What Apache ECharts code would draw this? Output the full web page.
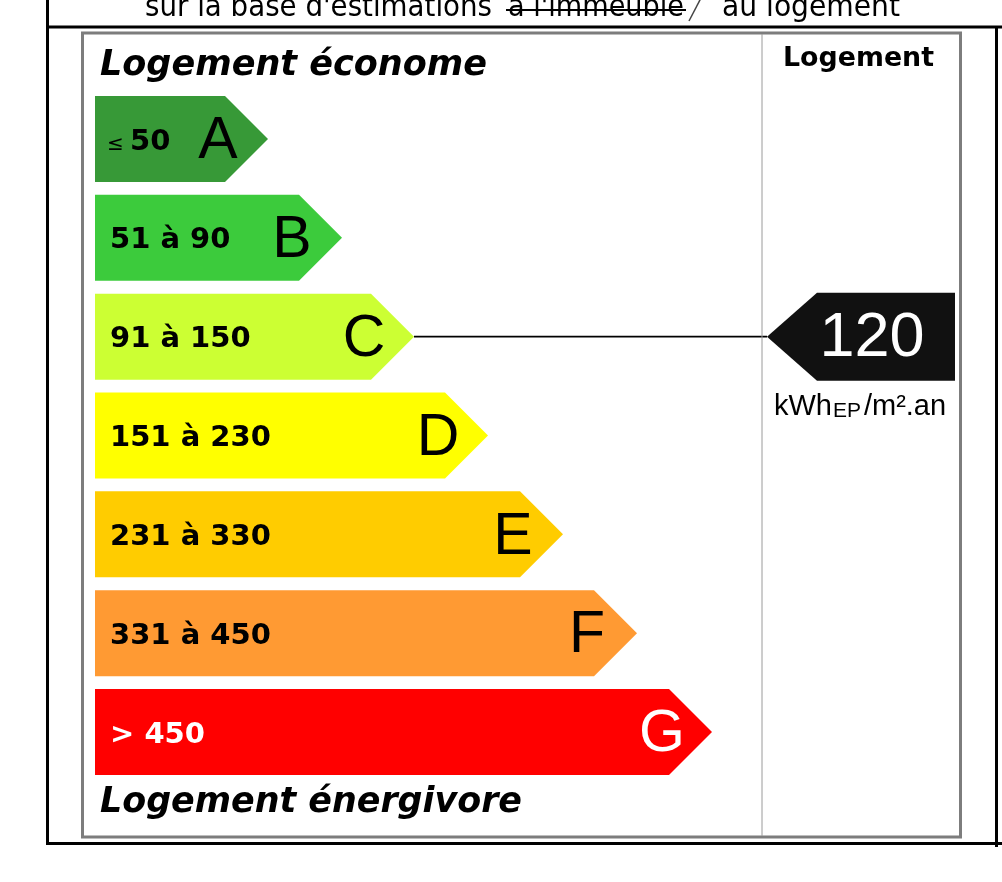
<!DOCTYPE html>
<html>
<head>
<meta charset="utf-8">
<script src="https://cdn.jsdelivr.net/npm/echarts@6/dist/echarts.min.js"></script>
<style>
  html, body { margin: 0; padding: 0; background: #fff; }
  #chart { width: 1002px; height: 882px; }
</style>
</head>
<body>
<div id="chart"></div>
<script>
// DPE energy label — classes A..G and the dwelling's value
var classes = ['A', 'B', 'C', 'D', 'E', 'F', 'G'];
var rangeLabels = ['≤ 50', '51 à 90', '91 à 150', '151 à 230', '231 à 330', '331 à 450', '> 450'];
var barLength = [173, 247, 319, 393, 468, 542, 617];
var logementValue = 120;
var logementClass = 'C';
var titleTop = 'Logement économe';
var titleBottom = 'Logement énergivore';
var columnTitle = 'Logement';
var headerParts = ["sur la base d'estimations", "à l'immeuble", 'au logement'];

(function () {
  var classColors = ['#379937', '#3ccb3c', '#ccff33', '#ffff00', '#ffcc00', '#ff9a33', '#ff0000'];
  var textColors = ['#000', '#000', '#000', '#000', '#000', '#000', '#fff'];
  var boldFont = '"DejaVu Sans", Verdana, sans-serif';
  var arial = '"Liberation Sans", Arial, sans-serif';
  var narrow = '"Liberation Sans Narrow", "DejaVu Sans Condensed", sans-serif';

  var ctx = document.createElement('canvas').getContext('2d');
  function fit(text, font, width) {
    ctx.font = font;
    return width / ctx.measureText(text).width;
  }

  function txt(x, y, width, text, font, extra) {
    var el = {
      type: 'text', x: x, y: y, z: 5,
      scaleX: width ? fit(text, font, width) : 1,
      style: { text: text, font: font, fill: '#000', textVerticalAlign: 'middle', verticalAlign: 'middle' }
    };
    for (var k in extra) el.style[k] = extra[k];
    return el;
  }

  function line(x1, y1, x2, y2, w, color) {
    return { type: 'line', z: 4, shape: { x1: x1, y1: y1, x2: x2, y2: y2 }, style: { stroke: color || '#000', lineWidth: w } };
  }

  var topFont = '30px ' + narrow;
  var headFont = 'italic bold 35px ' + boldFont;

  var graphics = [
    // table rules
    line(47.5, 0, 47.5, 845, 3),
    line(46, 27, 1002, 27, 3),
    line(46, 843.5, 1002, 843.5, 3),
    line(996.5, 26, 996.5, 847, 3),
    // label frame + divider
    { type: 'rect', z: 1, shape: { x: 82.5, y: 33, width: 878, height: 804 }, style: { fill: '#fff', stroke: '#7d7d7d', lineWidth: 3 } },
    line(762, 34, 762, 836, 1, '#9a9a9a'),
    // header text (cut at the top)
    txt(145, 8, 347, headerParts[0], topFont),
    txt(508, 8, 176, headerParts[1], topFont),
    line(506, 10, 686, 10, 2.2),
    line(701, -2, 689, 21, 1.5, '#444'),
    txt(722, 8, 178, headerParts[2], topFont),
    // titles
    txt(100, 66, 387, titleTop, headFont),
    txt(100, 803, 422, titleBottom, headFont),
    txt(783, 59, 151, columnTitle, 'bold 27px ' + boldFont)
  ];

  var chart = echarts.init(document.getElementById('chart'), null, { renderer: 'canvas' });

  function renderBar(params, api) {
    var i = api.value(2);
    var p0 = api.coord([0, i]);
    var p1 = api.coord([api.value(0), i]);
    var h = api.size([0, 1])[1] * 0.87;
    var d = h / 2, y = p1[1], x0 = p0[0], x1 = p1[0];
    var label = rangeLabels[i];
    var labelEl;
    if (label.charAt(0) === '≤') {
      labelEl = {
        type: 'text',
        style: {
          text: '{le|≤ }{b|' + label.slice(2) + '}',
          x: x0 + 12, y: y + 3, fill: textColors[i],
          textVerticalAlign: 'middle', verticalAlign: 'middle',
          rich: {
            le: { font: '20px ' + boldFont, fill: textColors[i], padding: [6, 0, 0, 0] },
            b: { font: 'bold 29px ' + boldFont, fill: textColors[i] }
          }
        }
      };
    } else {
      labelEl = {
        type: 'text',
        style: {
          text: label, x: x0 + 15, y: y + 3, fill: textColors[i],
          font: 'bold 29px ' + boldFont,
          textVerticalAlign: 'middle', verticalAlign: 'middle'
        }
      };
    }
    return {
      type: 'group',
      children: [
        {
          type: 'polygon',
          shape: { points: [[x0, y - d], [x1 - d, y - d], [x1, y], [x1 - d, y + d], [x0, y + d]] },
          style: { fill: classColors[i] }
        },
        labelEl,
        {
          type: 'text',
          style: {
            text: classes[i], x: x1 - 50, y: y + 3, fill: textColors[i],
            font: '59px ' + arial,
            textAlign: 'center', align: 'center',
            textVerticalAlign: 'middle', verticalAlign: 'middle'
          }
        }
      ]
    };
  }

  function renderIndicator(params, api) {
    var ci = api.value(1);
    var y = api.coord([0, ci])[1];
    var barTip = api.coord([barLength[ci], ci])[0];
    var tip = 767, right = 955, d = 44, slant = 817;
    return {
      type: 'group',
      children: [
        { type: 'line', shape: { x1: barTip, y1: y, x2: tip, y2: y }, style: { stroke: '#000', lineWidth: 1.6 } },
        {
          type: 'polygon',
          shape: { points: [[tip, y], [slant, y - d], [right, y - d], [right, y + d], [slant, y + d]] },
          style: { fill: '#111' }
        },
        {
          type: 'text',
          style: {
            text: String(api.value(0)), x: 872, y: y + 2, fill: '#fff',
            font: '63px ' + arial,
            textAlign: 'center', align: 'center',
            textVerticalAlign: 'middle', verticalAlign: 'middle'
          }
        },
        {
          type: 'text',
          style: {
            text: 'kWh{sub|EP}/m².an', x: 860, y: y + 70, fill: '#000',
            font: '29px ' + arial,
            textAlign: 'center', align: 'center',
            textVerticalAlign: 'middle', verticalAlign: 'middle',
            rich: { sub: { font: '21px ' + arial, fill: '#000', padding: [9, 3, 0, 1] } }
          }
        }
      ]
    };
  }

  chart.setOption({
    animation: false,
    graphic: graphics,
    grid: { left: 95, top: 89.6, width: 866, height: 691.8 },
    xAxis: { type: 'value', min: 0, max: 866, show: false },
    yAxis: { type: 'category', data: classes, inverse: true, show: false },
    series: [
      {
        type: 'custom',
        z: 3,
        renderItem: renderBar,
        data: barLength.map(function (v, i) { return [v, i, i]; })
      },
      {
        type: 'custom',
        z: 3,
        renderItem: renderIndicator,
        data: [[logementValue, classes.indexOf(logementClass)]]
      }
    ]
  });
})();
</script>
</body>
</html>
